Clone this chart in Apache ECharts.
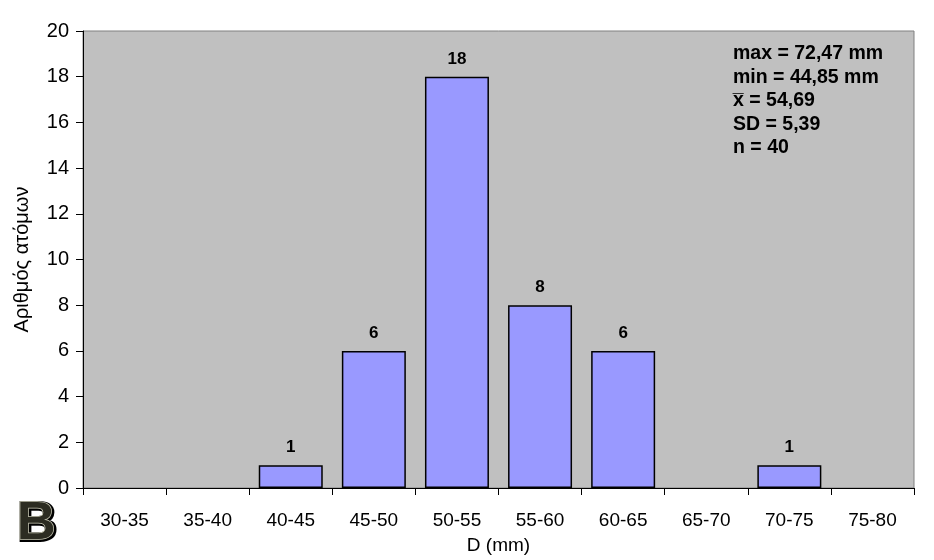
<!DOCTYPE html>
<html><head><meta charset="utf-8">
<script src="https://cdn.jsdelivr.net/npm/echarts@6/dist/echarts.min.js"></script>
<style>html,body{margin:0;padding:0;background:#fff}#c{width:934px;height:560px}</style>
</head><body><div id="c"></div>
<script>
var categories = ['30-35','35-40','40-45','45-50','50-55','55-60','60-65','65-70','70-75','75-80'];
var counts = [0,0,1,6,18,8,6,0,1,0];
var statsLines = ['max = 72,47 mm','min = 44,85 mm','x\u0305 = 54,69','SD = 5,39','n = 40'];
var yTicks = [0,2,4,6,8,10,12,14,16,18,20];

var chart = echarts.init(document.getElementById('c'));
var F = 'Liberation Sans, Arial, sans-serif';
chart.setOption({
  animation:false,
  backgroundColor:'#fff',
  grid:{left:83,right:20,top:31,bottom:72,show:true,backgroundColor:'#c0c0c0',borderColor:'#808080',borderWidth:1},
  xAxis:{type:'category',data:categories,
    axisLine:{lineStyle:{color:'#000',width:1}},
    axisTick:{show:true,alignWithLabel:false,length:7,lineStyle:{color:'#000'}},
    axisLabel:{color:'#000',fontFamily:F,fontSize:19,margin:23},
    name:'D (mm)',nameLocation:'middle',nameGap:48,
    nameTextStyle:{color:'#000',fontFamily:F,fontSize:19}},
  yAxis:{type:'value',min:0,max:20,interval:2,
    axisLine:{show:true,lineStyle:{color:'#000'}},
    axisTick:{show:true,length:7,lineStyle:{color:'#000'}},
    splitLine:{show:false},
    axisLabel:{color:'#000',fontFamily:F,fontSize:20,margin:14,
      formatter:function(v){return yTicks.indexOf(v)>=0?String(v):'';}},
    name:'Αριθμός ατόμων',nameLocation:'middle',nameGap:51,
    nameTextStyle:{color:'#000',fontFamily:F,fontSize:20}},
  series:[{type:'bar',data:counts.map(function(v){return v===0?null:v;}),
    barCategoryGap:'23%',
    itemStyle:{color:'#9999ff',borderColor:'#000',borderWidth:1.5},
    label:{show:true,position:'top',distance:9,color:'#000',fontFamily:F,fontSize:17,fontWeight:'bold'}}],
  graphic:[
    {type:'text',left:733,top:42,style:{text:statsLines.join('\n'),font:'bold 19.5px '+F,fill:'#000',lineHeight:23.5}},
    {type:'text',left:16,top:496,style:{text:'B',font:'bold 54px '+F,fill:'#000',stroke:'#000',lineWidth:4,
      shadowColor:'rgba(0,0,0,0.45)',shadowBlur:3,shadowOffsetX:2,shadowOffsetY:2}},
    {type:'text',left:16,top:496,style:{text:'B',font:'bold 54px '+F,fill:'#2c2c22',stroke:'#c8c8b4',lineWidth:1.5}}
  ]
});
</script></body></html>
